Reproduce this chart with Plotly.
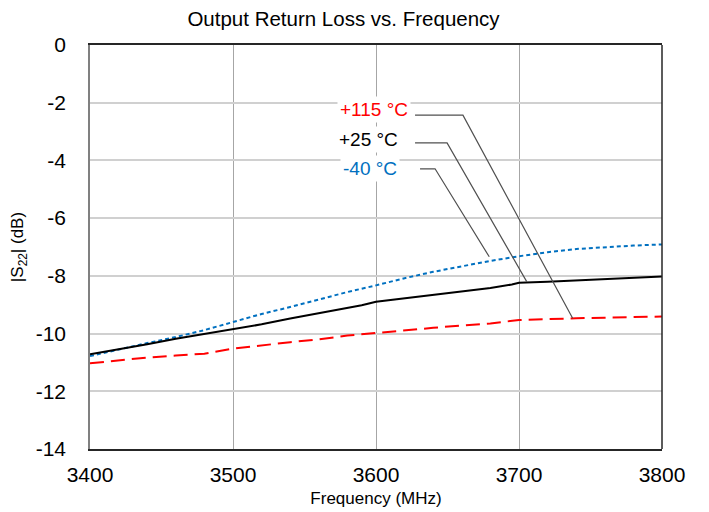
import plotly.graph_objects as go

freq_m40 = [3400, 3420, 3440, 3460, 3480, 3500, 3520, 3540, 3560, 3580, 3600, 3620, 3640, 3660, 3680, 3700, 3720, 3740, 3760, 3780, 3800]
s22_m40 = [-10.78, -10.55, -10.33, -10.12, -9.88, -9.6, -9.32, -9.08, -8.82, -8.56, -8.33, -8.08, -7.86, -7.66, -7.48, -7.32, -7.18, -7.07, -7.0, -6.95, -6.91]

freq_25 = [3400, 3420, 3440, 3460, 3480, 3500, 3520, 3540, 3560, 3580, 3590, 3600, 3620, 3640, 3660, 3680, 3695, 3700, 3720, 3740, 3760, 3780, 3800]
s22_25 = [-10.72, -10.55, -10.37, -10.18, -10.02, -9.85, -9.68, -9.48, -9.3, -9.1, -9.02, -8.9, -8.78, -8.64, -8.52, -8.42, -8.3, -8.24, -8.2, -8.16, -8.1, -8.06, -8.02]

freq_115 = [3400, 3420, 3440, 3460, 3480, 3500, 3520, 3540, 3560, 3580, 3600, 3620, 3640, 3660, 3680, 3700, 3720, 3740, 3760, 3780, 3800]
s22_115 = [-11.03, -10.93, -10.83, -10.76, -10.7, -10.52, -10.4, -10.3, -10.2, -10.07, -9.98, -9.88, -9.8, -9.72, -9.65, -9.53, -9.49, -9.47, -9.45, -9.43, -9.41]

x_ticks = [3400, 3500, 3600, 3700, 3800]
y_ticks = [0, -2, -4, -6, -8, -10, -12, -14]
y_tick_text = ["0", "-2", "-4", "-6", "-8", "-10", "-12", "-14"]

labels = ["+115 °C", "+25 °C", "-40 °C"]
label_colors = ["#FF0000", "#000000", "#0070C0"]
label_x = [3598.3, 3594.8, 3595.8]
label_y = [-2.25, -3.27, -4.28]
# leader lines: start, elbow, end (data coords)
leader_x = [[3627.3, 3660.8, 3737.5], [3627.3, 3649.7, 3705.4], [3630.8, 3641.3, 3679.2]]
leader_y = [[-2.43, -2.43, -9.47], [-3.39, -3.39, -8.20], [-4.29, -4.29, -7.34]]

font = "Liberation Sans, Arial, sans-serif"

fig = go.Figure()
fig.add_trace(go.Scatter(x=freq_m40, y=s22_m40, mode="lines",
                         line=dict(color="#0070C0", width=2, dash="4px,3px"), name="-40 °C"))
fig.add_trace(go.Scatter(x=freq_25, y=s22_25, mode="lines",
                         line=dict(color="#000000", width=2), name="+25 °C"))
fig.add_trace(go.Scatter(x=freq_115, y=s22_115, mode="lines",
                         line=dict(color="#FF0000", width=2, dash="14px,7px"), name="+115 °C"))

for lx, ly in zip(leader_x, leader_y):
    fig.add_trace(go.Scatter(x=lx, y=ly, mode="lines", line=dict(color="#505050", width=1.2),
                             showlegend=False, hoverinfo="skip"))

for t, c, x, y in zip(labels, label_colors, label_x, label_y):
    fig.add_annotation(x=x, y=y, xref="x", yref="y", text=t, showarrow=False,
                       font=dict(family=font, size=19, color=c), bgcolor="white",
                       borderpad=2)

# dark right border of plot area
fig.add_shape(type="line", xref="paper", yref="paper", x0=1, x1=1, y0=0, y1=1,
              line=dict(color="#262626", width=1.5), layer="above")

fig.update_layout(
    width=709, height=512,
    margin=dict(l=82, r=55, t=37, b=71, autoexpand=False),
    paper_bgcolor="white", plot_bgcolor="white",
    showlegend=False,
    title=dict(text="Output Return Loss vs. Frequency",
               xref="container", x=(185 + 502) / 2 / 709 - 8 / 709, xanchor="center",
               yref="container", y=1 - 11 / 512, yanchor="middle",
               font=dict(family=font, size=20.5, color="#000000")),
    font=dict(family=font, color="#000000"),
)
fig.update_xaxes(range=[3400, 3800], tickvals=x_ticks,
                 showgrid=True, gridcolor="#A6A6A6", gridwidth=1,
                 showline=True, mirror=True, linecolor="#262626", linewidth=1.5,
                 ticks="", ticklabelstandoff=6, automargin=False,
                 tickfont=dict(family=font, size=21, color="#000000"),
                 title=dict(text="Frequency (MHz)", font=dict(family=font, size=17, color="#000000"),
                            standoff=7),
                 zeroline=False)
fig.update_yaxes(range=[-14, 0], tickvals=y_ticks, ticktext=y_tick_text,
                 showgrid=True, gridcolor="#D0D0D0", gridwidth=2,
                 showline=True, linecolor="#808080", linewidth=1.5,
                 ticks="", ticklabelstandoff=18, automargin=False,
                 tickfont=dict(family=font, size=21, color="#000000"),
                 title=dict(text="|S<sub>22</sub>| (dB)", font=dict(family=font, size=17, color="#000000"),
                            standoff=14),
                 zeroline=False)

fig.write_html("out.html")
